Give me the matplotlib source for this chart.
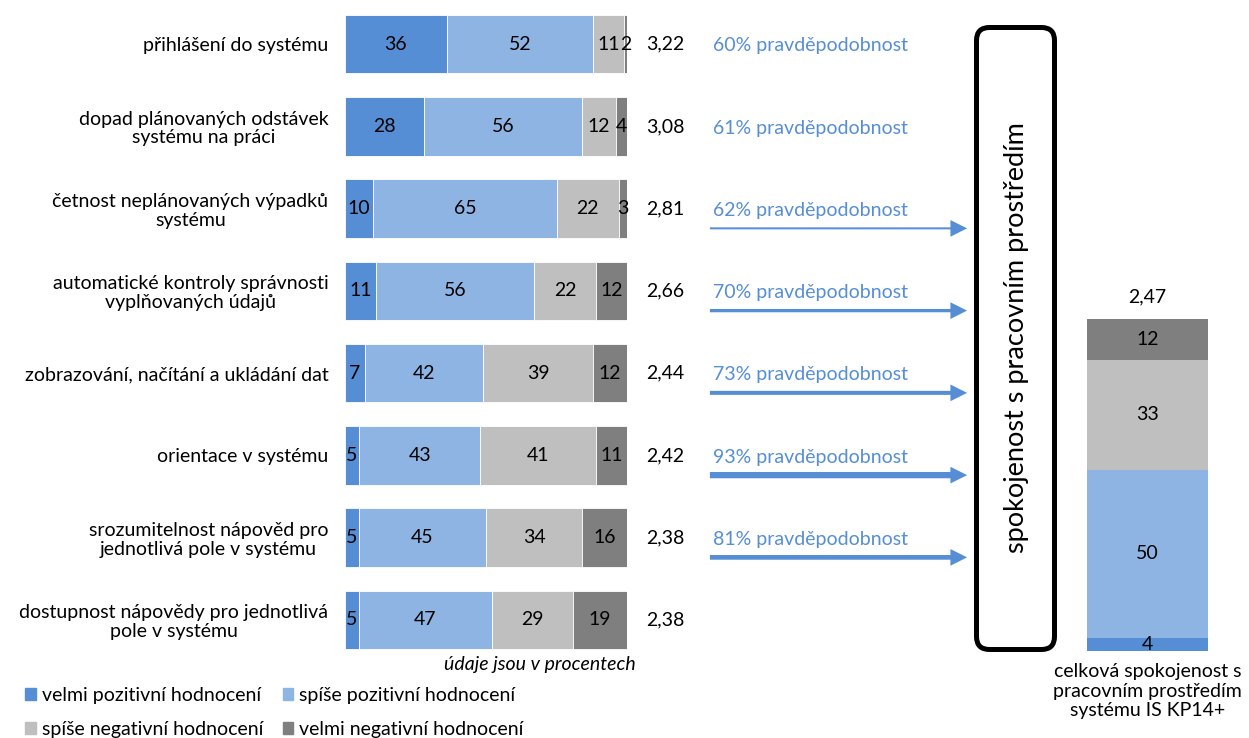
import matplotlib
matplotlib.use("Agg")
import matplotlib.pyplot as plt
from matplotlib.patches import FancyBboxPatch, Patch

FS = 14
plt.rcParams['font.family'] = ['Lato', 'DejaVu Sans']
plt.rcParams['font.size'] = FS

# data (percent)
categories = [
    "přihlášení do systému",
    "dopad plánovaných odstávek\nsystému na práci",
    "četnost neplánovaných výpadků\nsystému",
    "automatické kontroly správnosti\nvyplňovaných údajů",
    "zobrazování, načítání a ukládání dat",
    "orientace v systému",
    "srozumitelnost nápověd pro\njednotlivá pole v systému",
    "dostupnost nápovědy pro jednotlivá\npole v systému",
]
velmi_poz = [36, 28, 10, 11, 7, 5, 5, 5]
spise_poz = [52, 56, 65, 56, 42, 43, 45, 47]
spise_neg = [11, 12, 22, 22, 39, 41, 34, 29]
velmi_neg = [2, 4, 3, 12, 12, 11, 16, 19]
scores = ["3,22", "3,08", "2,81", "2,66", "2,44", "2,42", "2,38", "2,38"]

probs = [60, 61, 62, 70, 73, 93, 81]
has_arrow = [False, False, True, True, True, True, True]

total_cats = ["celková spokojenost s\npracovním prostředím\nsystému IS KP14+"]
total_vals = [4, 50, 33, 12]
total_score = "2,47"

series_names = ["velmi pozitivní hodnocení", "spíše pozitivní hodnocení",
                "spíše negativní hodnocení", "velmi negativní hodnocení"]
colors = ["#558ED5", "#8EB4E3", "#BFBFBF", "#7F7F7F"]
arrow_col = "#558ED5"

W, H = 1249, 738
fig = plt.figure(figsize=(W / 100, H / 100), dpi=100)

# overlay in pixel units for the box and its text
ov = fig.add_axes([0, 0, 1, 1], zorder=0)
ov.set_xlim(0, W)
ov.set_ylim(H, 0)
ov.axis("off")

# main stacked bars
ax = fig.add_axes([345 / W, 1 - 661 / H, 282 / W, 658 / H], zorder=2)
ax.patch.set_alpha(0)
ypos = list(range(len(categories)))
left = [0] * len(categories)
for vals, col in zip([velmi_poz, spise_poz, spise_neg, velmi_neg], colors):
    bars = ax.barh(ypos, vals, left=left, height=0.71, color=col,
                   edgecolor="white", linewidth=0.6)
    ax.bar_label(bars, labels=[str(v) for v in vals], label_type="center",
                 fontsize=FS, color="black")
    left = [a + b for a, b in zip(left, vals)]

ax.set_xlim(0, 100)
ax.set_ylim(len(categories) - 0.5, -0.5)
ax.set_yticks(ypos)
ax.set_yticklabels(categories, multialignment="center", linespacing=1.1)
ax.tick_params(axis="y", length=0, pad=12)
ax.set_xticks([])
for s in ax.spines.values():
    s.set_visible(False)

for i, sc in enumerate(scores):
    ax.annotate(sc, xy=(100, i), xytext=(14, 0), textcoords="offset points",
                ha="left", va="center", fontsize=FS)

# probability texts and arrows (tail width grows with probability)
tail_px = {62: 2.0, 70: 3.3, 73: 4.0, 81: 4.7, 93: 6.3}
for i, (p, show) in enumerate(zip(probs, has_arrow)):
    ax.text(130.5, i + 0.02, f"{p}% pravděpodobnost", color=arrow_col,
            ha="left", va="center", fontsize=FS, clip_on=False)
    if show:
        style = f"simple,head_length=12,head_width=12,tail_width={tail_px[p] * 0.72}"
        ax.annotate("", xy=(220.6, i + 0.24), xytext=(129.4, i + 0.24),
                    arrowprops=dict(arrowstyle=style, mutation_scale=1, lw=0,
                                    color=arrow_col, shrinkA=0, shrinkB=0),
                    annotation_clip=False)

ax.text(103.2, len(categories) - 0.5 + 0.04, "údaje jsou v procentech",
        style="italic", ha="right", va="center", fontsize=FS, clip_on=False)

# rounded box
box = FancyBboxPatch((976.5, 27.5), 78, 622,
                     boxstyle="round,pad=0,rounding_size=13",
                     fill=False, edgecolor="black", lw=3.6)
ov.add_patch(box)
ov.text(1017, 338, "spokojenost s pracovním prostředím", rotation=90,
        ha="center", va="center", fontsize=19.5)

# total bar on the right
ax2 = fig.add_axes([1087 / W, 1 - 651 / H, 121 / W, 335 / H], zorder=2)
bottom = 0
for v, col in zip(total_vals, colors):
    b = ax2.bar([0], [v], bottom=bottom, width=1, color=col)
    ax2.bar_label(b, labels=[str(v)], label_type="center", fontsize=FS)
    bottom += v
ax2.set_xlim(-0.5, 0.5)
ax2.set_ylim(0, 100)
ax2.axis("off")
ax2.annotate(total_score, xy=(0, bottom), xytext=(0, 16), textcoords="offset points",
             ha="center", va="center", fontsize=FS)
ax2.annotate(total_cats[0], xy=(0.5, 0), xycoords="axes fraction",
             xytext=(0, -9), textcoords="offset points",
             ha="center", va="top", fontsize=FS, linespacing=1.15)

# legend
handles = [Patch(color=c) for c in colors]
order = [0, 2, 1, 3]
fig.legend([handles[k] for k in order], [series_names[k] for k in order],
           ncol=2, loc="lower left", bbox_to_anchor=(0.011, -0.0155),
           frameon=False, handlelength=0.55, handleheight=0.55,
           handletextpad=0.3, columnspacing=1.0, labelspacing=0.88,
           borderaxespad=0.2, fontsize=FS)

fig.savefig("out.png", dpi=100)
